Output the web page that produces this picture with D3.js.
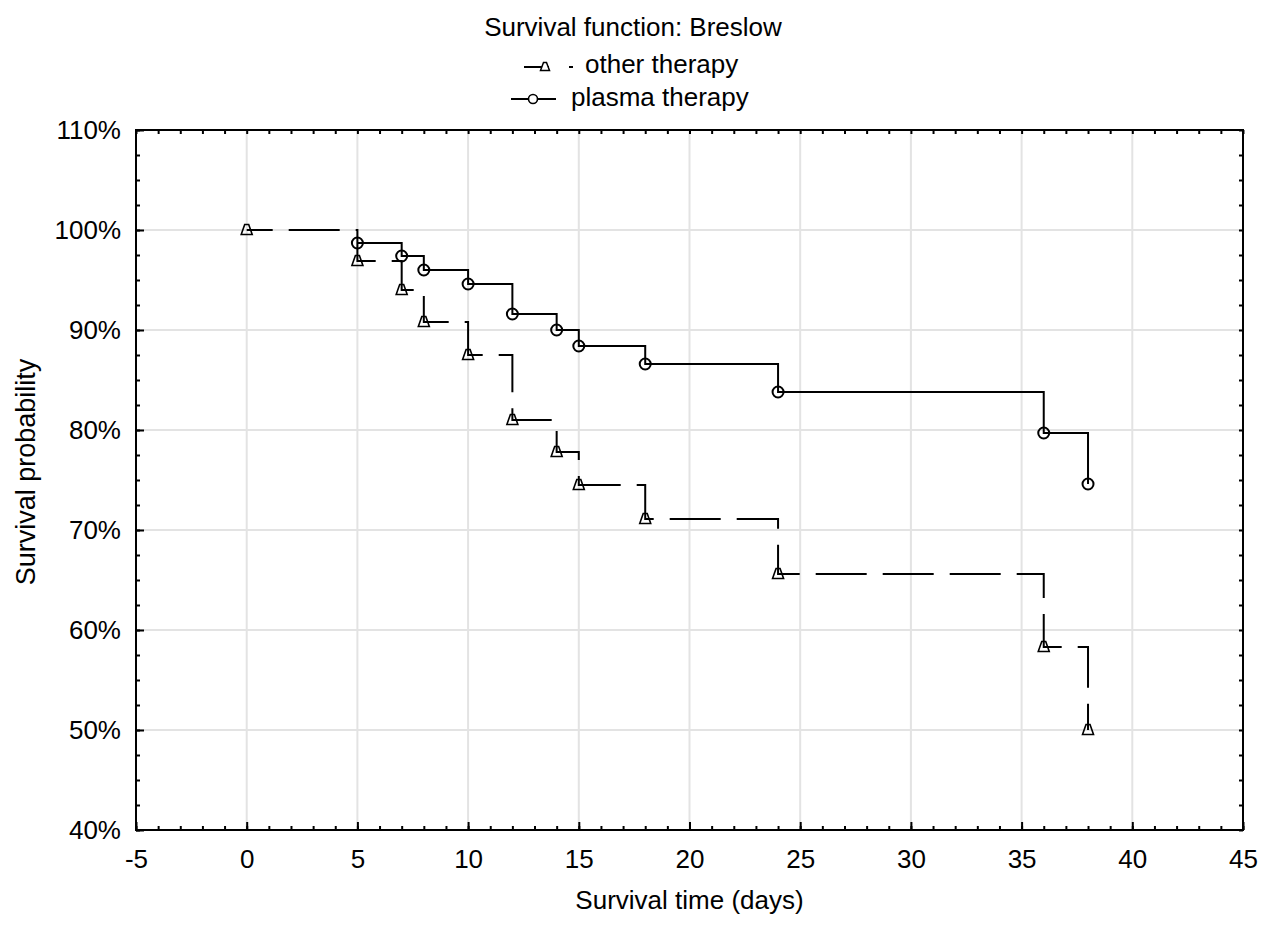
<!DOCTYPE html>
<html>
<head>
<meta charset="utf-8">
<script src="https://cdn.jsdelivr.net/npm/d3@7"></script>
<style>
  html, body { margin: 0; padding: 0; background: #fff; }
  text { font-family: Arial, "Liberation Sans", sans-serif; fill: #000; }
</style>
</head>
<body>
<svg id="chart" width="1267" height="926"></svg>
<script>
// ---- data ----
const title = "Survival function: Breslow";
const seriesNames = ["other therapy", "plasma therapy"];
const timeOther = [0, 5, 7, 8, 10, 12, 14, 15, 18, 24, 36, 38];
const survOther = [100, 96.9, 94.0, 90.8, 87.5, 81.0, 77.8, 74.5, 71.1, 65.6, 58.3, 50.0];
const timePlasma = [5, 7, 8, 10, 12, 14, 15, 18, 24, 36, 38];
const survPlasma = [98.7, 97.4, 96.0, 94.6, 91.6, 90.0, 88.4, 86.6, 83.8, 79.7, 74.6];
const xTicks = [-5, 0, 5, 10, 15, 20, 25, 30, 35, 40, 45];
const yTicks = [40, 50, 60, 70, 80, 90, 100, 110];
const xLabel = "Survival time (days)";
const yLabel = "Survival probability";

// ---- layout ----
const FONT = "Arial, 'Liberation Sans', sans-serif";
const FS = 26;
const svg = d3.select("#chart");
const L = 136, R = 1243, T = 130, B = 830;
const x = d3.scaleLinear().domain([-5, 45]).range([L, R]);
const y = d3.scaleLinear().domain([40, 110]).range([B, T]);

// grid
const grid = svg.append("g");
grid.selectAll("line.gx").data(xTicks.slice(1, -1)).join("line")
  .attr("x1", d => x(d)).attr("x2", d => x(d)).attr("y1", T).attr("y2", B)
  .attr("stroke", "#e3e3e3").attr("stroke-width", 2);
grid.selectAll("line.gy").data(yTicks.slice(1, -1)).join("line")
  .attr("y1", d => y(d)).attr("y2", d => y(d)).attr("x1", L).attr("x2", R)
  .attr("stroke", "#e3e3e3").attr("stroke-width", 2);

// axes (ticks pointing inward)
const xMinor = d3.range(-5, 45.01, 1);
const yMinor = d3.range(40, 110.01, 2.5);
const fmtPct = d => d + "%";
const fmtInt = d => String(d);

function styleAxis(g) {
  g.select(".domain").remove();
  g.selectAll("line").attr("stroke", "#000").attr("stroke-width", 2);
  g.selectAll("text").attr("font-size", FS).attr("font-family", FONT).attr("fill", "#000");
}
svg.append("g").attr("transform", `translate(0,${B})`)
  .call(d3.axisBottom(x).tickValues(xMinor).tickSize(-4).tickFormat("")).call(styleAxis);
svg.append("g").attr("transform", `translate(${L},0)`)
  .call(d3.axisLeft(y).tickValues(yMinor).tickSize(-4).tickFormat("")).call(styleAxis);
svg.append("g").attr("transform", `translate(0,${T})`)
  .call(d3.axisTop(x).tickValues(xMinor).tickSize(-4).tickFormat("")).call(styleAxis);
svg.append("g").attr("transform", `translate(${R},0)`)
  .call(d3.axisRight(y).tickValues(yMinor).tickSize(-4).tickFormat("")).call(styleAxis);

// major ticks + labels
svg.append("g").attr("transform", `translate(0,${B})`)
  .call(d3.axisBottom(x).tickValues(xTicks).tickSize(-8).tickPadding(20).tickFormat(fmtInt))
  .call(styleAxis);
svg.append("g").attr("transform", `translate(${L},0)`)
  .call(d3.axisLeft(y).tickValues(yTicks).tickSize(-8).tickPadding(15).tickFormat(fmtPct))
  .call(styleAxis);

// frame
svg.append("rect").attr("x", L).attr("y", T).attr("width", R - L).attr("height", B - T)
  .attr("fill", "none").attr("stroke", "#000").attr("stroke-width", 2);

// step lines
const line = d3.line().curve(d3.curveStepAfter).x(d => x(d[0])).y(d => y(d[1]));
const other = timeOther.map((t, i) => [t, survOther[i]]);
const plasma = timePlasma.map((t, i) => [t, survPlasma[i]]);

svg.append("path").datum(other).attr("d", line)
  .attr("fill", "none").attr("stroke", "#000").attr("stroke-width", 2)
  .attr("stroke-dasharray", "51,16").attr("stroke-dashoffset", 25);
svg.append("path").datum(plasma).attr("d", line)
  .attr("fill", "none").attr("stroke", "#000").attr("stroke-width", 2);

// markers
const tri = "M-5.5,4.5 L-2,-5.5 L2,-5.5 L5.5,4.5 Z";
svg.append("g").selectAll("path").data(other).join("path")
  .attr("transform", d => `translate(${x(d[0])},${y(d[1])})`)
  .attr("d", tri).attr("fill", "none").attr("stroke", "#000").attr("stroke-width", 1.6);
svg.append("g").selectAll("circle").data(plasma).join("circle")
  .attr("cx", d => x(d[0])).attr("cy", d => y(d[1])).attr("r", 5.5)
  .attr("fill", "none").attr("stroke", "#000").attr("stroke-width", 2);

// title
svg.append("text").attr("x", 633).attr("y", 36).attr("text-anchor", "middle")
  .attr("font-size", FS).text(title);

// legend
const lg = svg.append("g");
// other therapy
lg.append("line").attr("x1", 524).attr("x2", 573).attr("y1", 67).attr("y2", 67)
  .attr("stroke", "#000").attr("stroke-width", 2).attr("stroke-dasharray", "25,20");
lg.append("path").attr("transform", "translate(545,67)").attr("d", "M-4.5,3.5 L-1.5,-4.5 L1.5,-4.5 L4.5,3.5 Z")
  .attr("fill", "#fff").attr("stroke", "#000").attr("stroke-width", 1.5);
lg.append("text").attr("x", 585).attr("y", 73).attr("font-size", FS).text(seriesNames[0]);
// plasma therapy
lg.append("line").attr("x1", 511).attr("x2", 556).attr("y1", 99).attr("y2", 99)
  .attr("stroke", "#000").attr("stroke-width", 2);
lg.append("circle").attr("cx", 533).attr("cy", 99).attr("r", 4.5)
  .attr("fill", "#fff").attr("stroke", "#000").attr("stroke-width", 1.6);
lg.append("text").attr("x", 571).attr("y", 106).attr("font-size", FS).text(seriesNames[1]);

// axis titles
svg.append("text").attr("x", (L + R) / 2).attr("y", 909).attr("text-anchor", "middle")
  .attr("font-size", FS).text(xLabel);
svg.append("text").attr("transform", `translate(35,472) rotate(-90)`)
  .attr("text-anchor", "middle").attr("font-size", 27).text(yLabel);
</script>
</body>
</html>
